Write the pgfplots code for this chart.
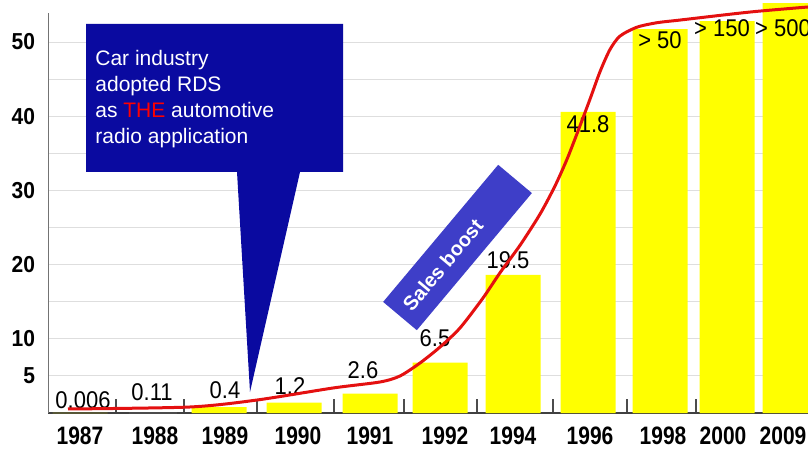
\documentclass[border=0pt]{standalone}
\usepackage{pgfplots}
\pgfplotsset{compat=1.18}
\usepackage{fontspec}
\setmainfont{Liberation Sans}
\definecolor{cbblue}{RGB}{10,10,160}
\definecolor{sbblue}{RGB}{62,62,200}
\definecolor{cyel}{RGB}{255,255,0}
\definecolor{cred}{RGB}{228,16,16}
\definecolor{cgrid}{RGB}{222,222,222}
\begin{document}
\begin{tikzpicture}
\begin{axis}[
 at={(24pt,18.5pt)}, anchor=south west,
 scale only axis, width=380pt, height=200pt,
 xmin=48, xmax=808, ymin=0, ymax=53.91,
 clip=false,
 axis x line=bottom, axis y line=left,
 axis line style={-},
 x axis line style={draw=black!75, line width=0.6pt},
 y axis line style={draw=black!55, line width=0.5pt},
 xtick={116,184,257,334,404,477,553,627,696},
 xticklabels={},
 tick align=inside,
 xtick style={draw=black!70, line width=0.6pt},
 major tick length=7pt,
 extra x ticks={80,155,225,298,370,445,513,590,663,723,783},
 extra x tick labels={1987,1988,1989,1990,1991,1992,1994,1996,1998,2000,2009},
 extra x tick style={major tick length=0pt, grid=none},
 xticklabel style={font=\fontsize{10.5}{12}\selectfont\bfseries, yshift=-2.5pt, yscale=1.2},
 ytick={5,10,20,30,40,50},
 yticklabels={5,10,20,30,40,50},
 minor ytick={15,25,35,45},
 ymajorgrids, yminorgrids,
 major grid style={cgrid, line width=0.5pt},
 minor grid style={cgrid, line width=0.5pt},
 ytick style={draw=none},
 minor tick length=0pt,
 yticklabel style={font=\fontsize{10.5}{12}\selectfont\bfseries, xshift=-3pt, yscale=1.1},
 /pgf/number format/assume math mode=true,
]
\addplot[ybar, bar width=55, bar shift=0pt, fill=cyel, draw=none] coordinates {
 (80,0.006) (219,0.8) (294,1.4) (370,2.6) (440,6.8) (513,18.6) (588,40.6) (660,51.75) (727,52.8) (790,55.25)};
\addplot[ybar, bar width=47, bar shift=0pt, fill=black!70, draw=black!70] coordinates {(153,0.11)};
\begin{scope}[every node/.style={font=\fontsize{11}{12}\selectfont, yscale=1.1}]
\node at (axis cs:83,1.75) {0.006};
\node at (axis cs:152,2.83) {0.11};
\node at (axis cs:225,3.1) {0.4};
\node at (axis cs:290,3.64) {1.2};
\node at (axis cs:363,5.8) {2.6};
\node at (axis cs:435,10.1) {6.5};
\node at (axis cs:508,20.6) {19.5};
\node at (axis cs:588,38.9) {41.8};
\node at (axis cs:660,50.3) {> 50};
\node at (axis cs:722,51.9) {> 150};
\node at (axis cs:783,51.9) {> 500};
\end{scope}
\addplot[cred, line width=1.5pt, smooth, tension=0.45] coordinates {
 (68,0.54) (190,0.81) (257,1.75) (333,3.37) (380,4.18) (400,4.99) (420,6.74) (440,8.89) (460,11.46) (483,15.5) (500,18.9) (520,22.6) (540,26.8) (555,30.6) (567,34.2) (578,38.0) (590,42.3) (600,46.0) (610,49.0) (620,50.8) (637,52.0) (657,52.6) (680,52.96) (750,54.04) (808,54.72)};
\end{axis}
\begin{scope}[x=0.5pt, y=-0.5pt, shift={(0,225pt)}]
\fill[cbblue] (86,24) -- (343,24) -- (343,172) -- (300,172) -- (250,392) -- (237,172) -- (86,172) -- cycle;
\node[anchor=west, align=left, text=white, font=\fontsize{10.5}{13}\selectfont, inner sep=0pt] at (95,99) {Car industry\\adopted RDS\\as \textcolor{red}{THE} automotive\\radio application};
\node[fill=sbblue, minimum width=89.5pt, minimum height=22pt, rotate=50, inner sep=0pt, text=white, font=\bfseries\fontsize{10}{12}\selectfont] at (457.5,247.5) {\makebox[87pt][l]{\hspace{4pt}Sales boost}};
\end{scope}
\pgfresetboundingbox
\path[use as bounding box] (0,0) rectangle (404pt,225pt);
\end{tikzpicture}
\end{document}
